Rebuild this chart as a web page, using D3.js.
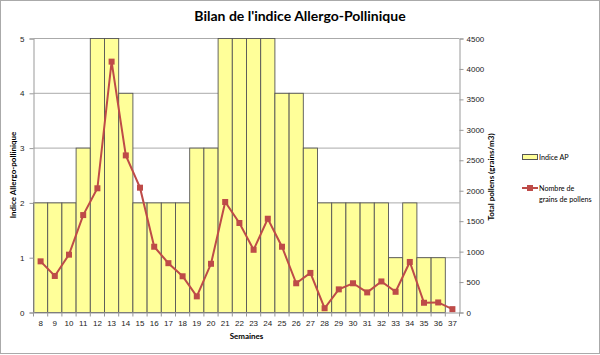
<!DOCTYPE html>
<html>
<head>
<meta charset="utf-8">
<script src="https://cdn.jsdelivr.net/npm/d3@7"></script>
<style>
  body { margin: 0; background: #fff; }
  svg { display: block; font-family: Lato, "Open Sans", sans-serif; }
  .axis path, .axis line { stroke: #999; }
  .axis text { fill: #222; font-size: 8px; }
</style>
</head>
<body>
<svg id="chart" width="600" height="355"></svg>
<script>
// weeks on the x axis
const weeks = [8, 9, 10, 11, 12, 13, 14, 15, 16, 17, 18, 19, 20, 21, 22, 23, 24, 25, 26, 27, 28, 29, 30, 31, 32, 33, 34, 35, 36, 37];
// allergo-pollinic index (bars, left axis)
const indiceAP = [2, 2, 2, 3, 5, 5, 4, 2, 2, 2, 2, 3, 3, 5, 5, 5, 5, 4, 4, 3, 2, 2, 2, 2, 2, 1, 2, 1, 1, 0];
// total pollens (line, right axis)
const pollens = [840, 600, 950, 1600, 2040, 4120, 2580, 2050, 1080, 810, 595, 265, 800, 1815, 1470, 1030, 1540, 1080, 480, 650, 70, 380, 480, 330, 510, 340, 830, 160, 165, 55];
const leftTicks = [0, 1, 2, 3, 4, 5];
const rightTicks = [0, 500, 1000, 1500, 2000, 2500, 3000, 3500, 4000, 4500];

const margin = { top: 38.5, left: 33.5, right: 140.5, bottom: 42.5 };
const W = 600, H = 355;
const innerW = W - margin.left - margin.right;
const innerH = H - margin.top - margin.bottom;

const svg = d3.select('#chart');
// outer border
svg.append('rect').attr('x', 0.5).attr('y', 0.5).attr('width', W - 1).attr('height', H - 2)
  .attr('fill', 'none').attr('stroke', '#aaa');

svg.append('text').attr('x', 300).attr('y', 21).attr('text-anchor', 'middle')
  .attr('font-size', 14).attr('font-weight', 'bold').text("Bilan de l'indice Allergo-Pollinique");

const g = svg.append('g').attr('transform', `translate(${margin.left},${margin.top})`);

const x = d3.scaleBand().domain(weeks).range([0, innerW]).padding(0);
const yL = d3.scaleLinear().domain([0, 5]).range([innerH, 0]);
const yR = d3.scaleLinear().domain([0, 4500]).range([innerH, 0]);

// gridlines
g.append('g').selectAll('line').data(leftTicks.slice(1)).join('line')
  .attr('x1', 0).attr('x2', innerW)
  .attr('y1', d => yL(d)).attr('y2', d => yL(d))
  .attr('stroke', '#aaa');

// bars
g.append('g').selectAll('rect').data(weeks.map((w, i) => ({ w, v: indiceAP[i] })).filter(d => d.v > 0)).join('rect')
  .attr('x', d => x(d.w)).attr('width', x.bandwidth())
  .attr('y', d => yL(d.v)).attr('height', d => innerH - yL(d.v))
  .attr('fill', '#ffff99').attr('stroke', '#555').attr('stroke-width', 0.9);

// axes
g.append('g').attr('class', 'axis')
  .call(d3.axisLeft(yL).tickValues(leftTicks).tickFormat(d3.format('d')).tickSize(4).tickPadding(5));

g.append('g').attr('class', 'axis').attr('transform', `translate(${innerW},0)`)
  .call(d3.axisRight(yR).tickValues(rightTicks).tickFormat(d3.format('d')).tickSize(4).tickPadding(3));

const xAxis = g.append('g').attr('class', 'axis').attr('transform', `translate(0,${innerH})`)
  .call(d3.axisBottom(x).tickSize(0).tickPadding(8));
xAxis.selectAll('.tick line').remove();
// ticks between categories
xAxis.selectAll('.sep').data(weeks.concat([null])).join('line').attr('class', 'sep')
  .attr('x1', (d, i) => i * x.step()).attr('x2', (d, i) => i * x.step())
  .attr('y1', 0).attr('y2', 4).attr('stroke', '#999');

// line
const line = d3.line().x((d, i) => x(weeks[i]) + x.bandwidth() / 2).y(d => yR(d));
g.append('path').datum(pollens).attr('d', line)
  .attr('fill', 'none').attr('stroke', '#be4b48').attr('stroke-width', 2);
g.append('g').selectAll('rect').data(pollens).join('rect')
  .attr('x', (d, i) => x(weeks[i]) + x.bandwidth() / 2 - 3)
  .attr('y', d => yR(d) - 3)
  .attr('width', 6).attr('height', 6).attr('fill', '#be4b48');

// axis titles
svg.append('text').attr('transform', 'translate(16,175) rotate(-90)')
  .attr('text-anchor', 'middle').attr('font-size', 8).attr('font-weight', 'bold')
  .text('Indice Allergo-pollinique');
svg.append('text').attr('transform', 'translate(494,177) rotate(-90)')
  .attr('text-anchor', 'middle').attr('font-size', 8).attr('font-weight', 'bold')
  .text('Total pollens  (grains/m3)');
svg.append('text').attr('x', margin.left + innerW / 2).attr('y', 339)
  .attr('text-anchor', 'middle').attr('font-size', 8).attr('font-weight', 'bold')
  .text('Semaines');

// legend
const lg = svg.append('g').attr('transform', 'translate(522,0)').attr('font-size', 7.2);
lg.append('rect').attr('x', 0.5).attr('y', 154.5).attr('width', 15).attr('height', 5)
  .attr('fill', '#ffff99').attr('stroke', '#555');
lg.append('text').attr('x', 17).attr('y', 160).text('Indice AP');
lg.append('line').attr('x1', 0).attr('x2', 16).attr('y1', 188).attr('y2', 188)
  .attr('stroke', '#be4b48').attr('stroke-width', 2);
lg.append('rect').attr('x', 5).attr('y', 185).attr('width', 6).attr('height', 6).attr('fill', '#be4b48');
lg.append('text').attr('x', 17).attr('y', 191).text('Nombre de');
lg.append('text').attr('x', 17).attr('y', 202).text('grains de pollens');
</script>
</body>
</html>
